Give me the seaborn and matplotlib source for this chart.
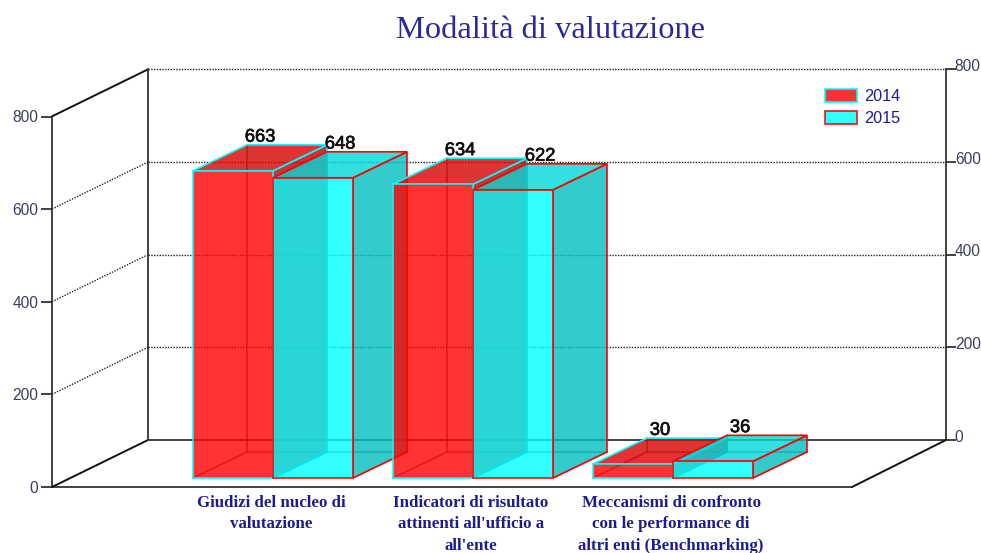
import matplotlib
matplotlib.use("Agg")
import matplotlib.pyplot as plt
import matplotlib.patheffects as pe
from matplotlib.colors import to_rgb
from matplotlib.patches import Patch, Polygon
from matplotlib.transforms import ScaledTranslation
import pandas as pd
import seaborn as sns

categories = ["Giudizi del nucleo di\nvalutazione",
              "Indicatori di risultato\nattinenti all'ufficio a\nall'ente",
              "Meccanismi di confronto\ncon le performance di\naltri enti (Benchmarking)"]
years = ["2014", "2015"]
values_2014 = [663, 634, 30]
values_2015 = [648, 622, 36]
y_ticks = [0, 200, 400, 600, 800]
title = "Modalità di valutazione"

W, H = 981, 553
PX_PER_UNIT = 0.4633
sns.set_theme(style="white")
plt.rcParams["font.family"] = ["Liberation Sans", "DejaVu Sans"]

fig = plt.figure(figsize=(W / 100, H / 100), dpi=100, facecolor="white")


def rect(x0, ytop, x1, ybot):
    return [x0 / W, (H - ybot) / H, (x1 - x0) / W, (ybot - ytop) / H]


AXC = "#333333"
LBL = "#3c3c64"
NAVY = "#1c1c90"
AXLW = 1.3

# Front plane axis: real left scale and category labels
ax_front = fig.add_axes(rect(52, 116.5, 852, 487), zorder=0)
ax_front.patch.set_visible(False)
ax_front.set_ylim(0, 800)
ax_front.set_xlim((52 - 271) / 200, (852 - 271) / 200)
ax_front.set_yticks(y_ticks)
ax_front.set_xticks(range(len(categories)))
ax_front.set_xticklabels(categories, family="Liberation Serif", fontweight="bold",
                         fontsize=12.2, color=NAVY, linespacing=1.47)
ax_front.tick_params(axis="x", length=0, pad=5.5)
ax_front.tick_params(axis="y", left=True, length=8, width=AXLW, color=AXC, pad=2,
                     labelsize=11.2, labelcolor=LBL)
for side in ["top", "right"]:
    ax_front.spines[side].set_visible(False)
for side in ["left", "bottom"]:
    ax_front.spines[side].set_color(AXC)
    ax_front.spines[side].set_linewidth(AXLW)

# Back wall scale, right-hand side
ax_right = fig.add_axes(rect(848, 69, 946, 440), zorder=0)
ax_right.patch.set_visible(False)
ax_right.set_ylim(0, 800)
ax_right.set_xticks([])
ax_right.yaxis.tick_right()
ax_right.set_yticks(y_ticks)
ax_right.tick_params(axis="y", right=True, length=7, width=AXLW, color=AXC, pad=-0.7,
                     labelsize=11.2, labelcolor=LBL)
for side in ["top", "left", "bottom"]:
    ax_right.spines[side].set_visible(False)
ax_right.spines["right"].set_color(AXC)
ax_right.spines["right"].set_linewidth(AXLW)
shift = ScaledTranslation(0, 4 / 100, fig.dpi_scale_trans)
for lab in ax_right.get_yticklabels():
    lab.set_transform(lab.get_transform() + shift)

# Bars: front faces through seaborn
ax = fig.add_axes([0, 0, 1, 1], zorder=1)
ax.patch.set_visible(False)
df = pd.DataFrame({
    "categoria": categories * 2,
    "anno": [years[0]] * 3 + [years[1]] * 3,
    "valore": values_2014 + values_2015,
})
face = {"2014": "#ff0000", "2015": "#00ffff"}
edge = {"2014": "#00ffff", "2015": "#ff0000"}
sns.barplot(data=df, x="categoria", y="valore", hue="anno", order=categories,
            hue_order=years, palette=face, width=0.8, gap=0, saturation=1,
            alpha=0.8, legend=False, ax=ax)
ax.set_xlim(-273 / 200, (W - 273) / 200)
ax.set_ylim((478 - H) / PX_PER_UNIT, 478 / PX_PER_UNIT)
ax.axis("off")


def P(px, py):
    return (px - 273) / 200, (478 - py) / PX_PER_UNIT


# Walls and floor of the box
for v in y_ticks:
    k = v * PX_PER_UNIT
    xs, ys = zip(P(52, 487 - k), P(148, 440 - k))
    if v in (0, 800):
        ax.plot(xs, ys, ls="-", lw=1.4, color="#111111", zorder=2)
    else:
        ax.plot(xs, ys, ls=(0, (1, 1)), lw=1.0, color="#222222", zorder=2)
    xs, ys = zip(P(148, 440 - k), P(946, 440 - k))
    if v == 0:
        ax.plot(xs, ys, ls="-", lw=AXLW, color=AXC, zorder=2)
    else:
        ax.plot(xs, ys, ls=(0, (1, 1)), lw=1.0, color="#222222", zorder=2)
xs, ys = zip(P(148, 440), P(148, 69))
ax.plot(xs, ys, color=AXC, lw=AXLW, zorder=2)
xs, ys = zip(P(852, 487), P(946, 440))
ax.plot(xs, ys, color="#111111", lw=1.4, zorder=2)

# Depth faces derived from each bar
DX = 54 / 200
DY = 26 / PX_PER_UNIT
order = []
for cat in range(len(categories)):
    for s, yr in enumerate(years):
        order.append((cat, s, yr))
for k, (cat, s, yr) in enumerate(order):
    bar = ax.containers[s][cat]
    x0, w, h = bar.get_x(), bar.get_width(), bar.get_height()
    x1 = x0 + w
    base = 5 + 4 * k
    e = edge[yr]
    rgb = to_rgb(face[yr])
    bar.set_edgecolor(e)
    bar.set_linewidth(1.4)
    bar.set_zorder(base + 2)
    # hidden edges
    ax.plot([x0, x0 + DX, x1 + DX], [0, DY, DY], color="#444444", alpha=0.7, lw=1.2, zorder=base)
    ax.plot([x0 + DX, x0 + DX], [DY, h + DY], color="#444444", alpha=0.7, lw=1.2, zorder=base)
    ax.plot([x1, x1 + DX], [0, DY], color="#444444", alpha=0.4, lw=1, zorder=base)
    # side face
    side_c = tuple(c * 0.75 for c in rgb) + (0.8,)
    ax.add_patch(Polygon([(x1, 0), (x1 + DX, DY), (x1 + DX, h + DY), (x1, h)],
                         facecolor=side_c, edgecolor=e, lw=1.2, zorder=base + 1))
    # top face
    top_c = tuple(c * 0.85 for c in rgb) + (0.8,)
    ax.add_patch(Polygon([(x0, h), (x0 + DX, h + DY), (x1 + DX, h + DY), (x1, h)],
                         facecolor=top_c, edgecolor=e, lw=1.2, zorder=base + 1))
    # value label
    t = ax.annotate(str(int(h)), (x0 + w / 2 + DX / 2, h + DY), xytext=(0, -0.6),
                    textcoords="offset points", ha="center", va="bottom",
                    fontsize=13.2, color="#111111", zorder=100)
    t.set_path_effects([pe.withStroke(linewidth=0.5, foreground="#111111")])

fig.text(551 / W, (H - 31) / H, title, family="Liberation Serif", fontsize=23.4,
         color="#2a2a9c", ha="center", va="center")

handles = [Patch(facecolor=face[y], edgecolor=edge[y], alpha=0.8, lw=1.4, label=y) for y in years]
leg = ax.legend(handles=handles, loc="upper left", bbox_to_anchor=(824.5 / W, (H - 89) / H),
                bbox_transform=fig.transFigure, frameon=False, fontsize=11.7, borderpad=0,
                borderaxespad=0, handlelength=2.0, handleheight=0.87, handletextpad=0.45,
                labelspacing=0.42, labelcolor=NAVY)
leg.set_zorder(120)

fig.savefig("out.png", dpi=100, facecolor="white")
